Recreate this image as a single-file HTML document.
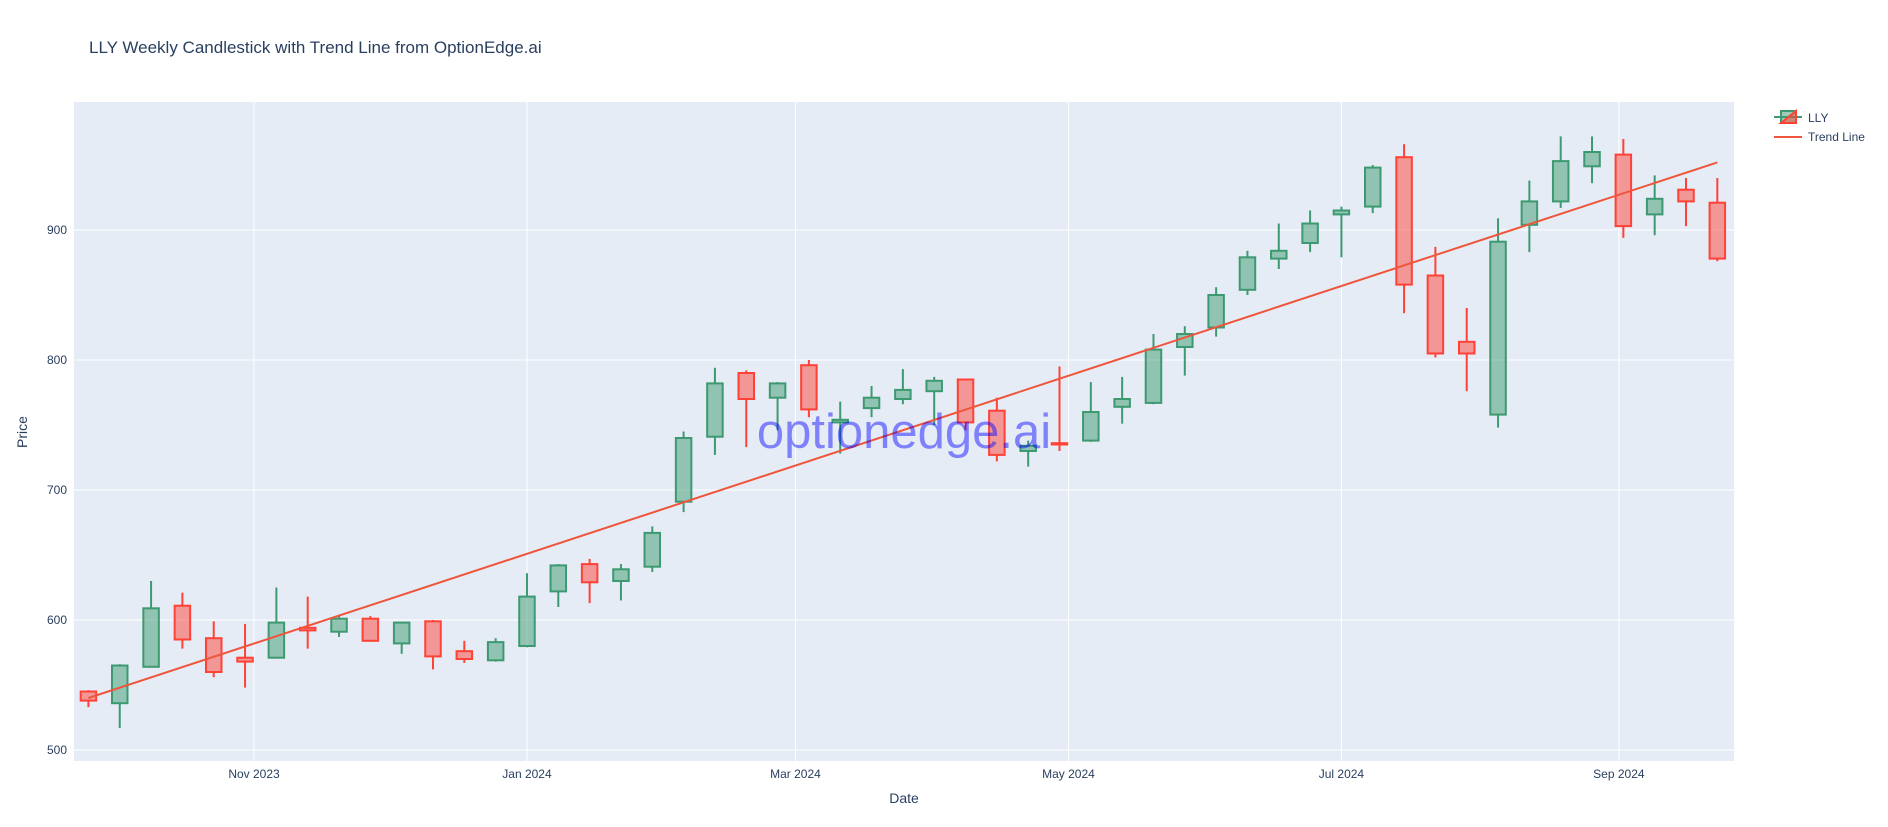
<!DOCTYPE html>
<html><head><meta charset="utf-8"><style>
html,body{margin:0;padding:0;background:#fff;}
svg{display:block;font-family:"Liberation Sans",sans-serif;}
</style></head><body>
<svg id="chart" width="1888" height="827" xmlns="http://www.w3.org/2000/svg">
<rect x="0" y="0" width="1888" height="827" fill="#fff"/>
<text x="89" y="53" font-size="17" fill="#2a3f5f">LLY Weekly Candlestick with Trend Line from OptionEdge.ai</text>
<rect x="74" y="102" width="1660" height="659" fill="#e5ecf6"/>
<g id="grid"></g>
<g id="candles"></g>
<g id="trend"></g>
<text x="904" y="448" font-size="49" text-anchor="middle" fill="#0000ff" fill-opacity="0.45">optionedge.ai</text>
<g id="axes"></g>
<text x="904" y="803" font-size="14" text-anchor="middle" fill="#2a3f5f">Date</text>
<text x="0" y="0" font-size="14" text-anchor="middle" fill="#2a3f5f" transform="translate(27,432) rotate(-90)">Price</text>
<g>
  <g>
    <line x1="1774" y1="117" x2="1802" y2="117" stroke="#3D9970" stroke-width="2"/>
    <rect x="1781" y="111" width="15" height="12" fill="#3D9970" fill-opacity="0.5" stroke="#3D9970" stroke-width="2"/>
    <polygon points="1796,111 1796,123 1781,123" fill="#FF4136" fill-opacity="0.5" stroke="#FF4136" stroke-width="2"/>
    <text x="1808" y="122" font-size="12" fill="#2a3f5f">LLY</text>
  </g>
  <g>
    <line x1="1774" y1="137" x2="1802" y2="137" stroke="#EF553B" stroke-width="2"/>
    <text x="1808" y="141" font-size="12" fill="#2a3f5f">Trend Line</text>
  </g>
</g>
</svg>
<script>
const dates=["2023-09-25","2023-10-02","2023-10-09","2023-10-16","2023-10-23","2023-10-30","2023-11-06","2023-11-13","2023-11-20","2023-11-27","2023-12-04","2023-12-11","2023-12-18","2023-12-25","2024-01-01","2024-01-08","2024-01-15","2024-01-22","2024-01-29","2024-02-05","2024-02-12","2024-02-19","2024-02-26","2024-03-04","2024-03-11","2024-03-18","2024-03-25","2024-04-01","2024-04-08","2024-04-15","2024-04-22","2024-04-29","2024-05-06","2024-05-13","2024-05-20","2024-05-27","2024-06-03","2024-06-10","2024-06-17","2024-06-24","2024-07-01","2024-07-08","2024-07-15","2024-07-22","2024-07-29","2024-08-05","2024-08-12","2024-08-19","2024-08-26","2024-09-02","2024-09-09","2024-09-16","2024-09-23"];
const opens=[545,536,564,611,586,571,571,594,591,601,582,599,576,569,580,622,643,630,641,691,741,790,771,796,752,763,770,776,785,761,730,736,738,764,767,810,825,854,878,890,912,918,956,865,814,758,904,922,949,958,912,931,921];
const highs=[546,566,630,621,599,597,625,618,604,603,598,600,584,586,636,643,647,643,672,745,794,792,783,800,768,780,793,787,785,771,738,795,783,787,820,826,856,884,905,915,918,950,966,887,840,909,938,972,972,970,942,940,940];
const lows=[533,517,564,578,556,548,571,578,587,584,574,562,567,568,579,610,613,615,637,683,727,733,746,756,728,756,766,750,746,722,718,730,737,751,766,788,818,850,870,883,879,913,836,802,776,748,883,917,936,894,896,903,876];
const closes=[538,565,609,585,560,568,598,592,601,584,598,572,570,583,618,642,629,639,667,740,782,770,782,762,754,771,777,784,752,727,734,735,760,770,808,820,850,879,884,905,915,948,858,805,805,891,922,953,960,903,924,922,878];
const trendDates=["2023-09-25","2024-09-23"];
const trendValues=[540,952];
const yTicks=[500,600,700,800,900];
const xTickDates=["2023-11-01","2024-01-01","2024-03-01","2024-05-01","2024-07-01","2024-09-01"];
const xTickLabels=["Nov 2023","Jan 2024","Mar 2024","May 2024","Jul 2024","Sep 2024"];

const NS="http://www.w3.org/2000/svg";
const PL=74,PR=1734,PT=102,PB=761;
const ref=Date.UTC(2023,10,1),DAY=86400000;
function xs(d){const p=d.split("-");return 254+((Date.UTC(+p[0],p[1]-1,+p[2])-ref)/DAY)*4.475;}
function ys(v){return 750-(v-500)*1.3;}
function mk(tag,attrs,parent){const e=document.createElementNS(NS,tag);for(const k in attrs)e.setAttribute(k,attrs[k]);parent.appendChild(e);return e;}
const grid=document.getElementById("grid"),axes=document.getElementById("axes"),cg=document.getElementById("candles"),tg=document.getElementById("trend");
yTicks.forEach(v=>{
  const l=mk("line",{x1:PL,x2:PR,y1:ys(v),y2:ys(v),stroke:"#fff","stroke-width":1},grid);
  
  
  const t=mk("text",{x:PL-7,y:ys(v)+4,"font-size":12,"text-anchor":"end",fill:"#2a3f5f"},axes);
  
  
  t.textContent=v;
});
xTickDates.forEach((d,i)=>{
  const l=mk("line",{x1:xs(d),x2:xs(d),y1:PT,y2:PB,stroke:"#fff","stroke-width":1},grid);
  
  
  const t=mk("text",{x:xs(d),y:778,"font-size":12,"text-anchor":"middle",fill:"#2a3f5f"},axes);
  
  
  t.textContent=xTickLabels[i];
});
const W=15.5;
dates.forEach((d,i)=>{
  const up=closes[i]>=opens[i];
  const col=up?"#3D9970":"#FF4136";
  const x=xs(d);
  const g=mk("g",{},cg);
  
  
  const top=ys(Math.max(opens[i],closes[i])),bot=ys(Math.min(opens[i],closes[i]));
  mk("line",{x1:x,x2:x,y1:ys(highs[i]),y2:top,stroke:col,"stroke-width":2},g);
  mk("line",{x1:x,x2:x,y1:bot,y2:ys(lows[i]),stroke:col,"stroke-width":2},g);
  mk("rect",{x:x-W/2,y:top,width:W,height:Math.max(bot-top,1),fill:col,"fill-opacity":0.5,stroke:col,"stroke-width":2},g);
});
const tl=mk("line",{x1:xs(trendDates[0]),y1:ys(trendValues[0]),x2:xs(trendDates[1]),y2:ys(trendValues[1]),stroke:"#EF553B","stroke-width":2},tg);


</script>
</body></html>
